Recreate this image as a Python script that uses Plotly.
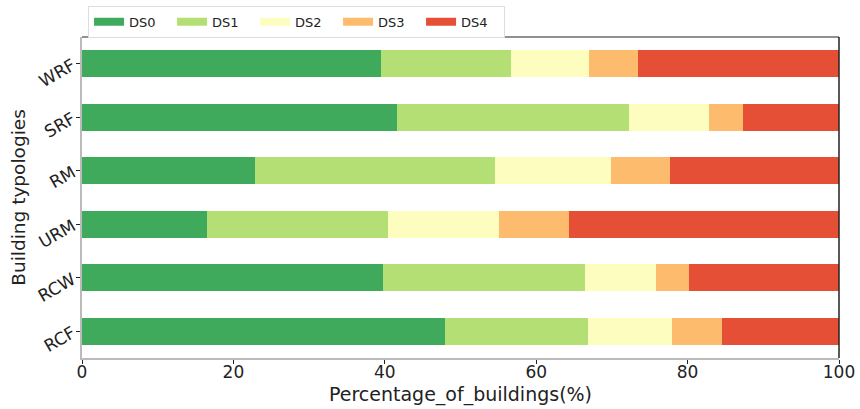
import plotly.graph_objects as go

categories = ["RCF", "RCW", "URM", "RM", "SRF", "WRF"]
series_names = ["DS0", "DS1", "DS2", "DS3", "DS4"]
ds0 = [48.0, 39.7, 16.5, 22.8, 41.6, 39.5]
ds1 = [18.8, 26.8, 23.9, 31.8, 30.7, 17.2]
ds2 = [11.2, 9.3, 14.7, 15.3, 10.5, 10.3]
ds3 = [6.5, 4.4, 9.2, 7.8, 4.5, 6.4]
ds4 = [15.5, 19.8, 35.7, 22.3, 12.7, 26.6]
colors = ["#40aa5c", "#b4df75", "#fefdc0", "#fdbb6d", "#e54f36"]
x_ticks = [0, 20, 40, 60, 80, 100]

fig = go.Figure()
for name, vals, col in zip(series_names, [ds0, ds1, ds2, ds3, ds4], colors):
    fig.add_trace(go.Bar(
        y=categories, x=vals, name=name, orientation="h",
        marker=dict(color=col, line=dict(width=0)),
        width=0.5, showlegend=False,
    ))
for name, col in zip(series_names, colors):
    fig.add_trace(go.Scatter(
        x=[None], y=[None], mode="lines", name=name,
        line=dict(color=col, width=8),
    ))

fig.update_layout(
    width=860, height=409,
    margin=dict(l=82, r=21, t=37, b=51, autoexpand=False),
    barmode="stack",
    plot_bgcolor="white", paper_bgcolor="white",
    font=dict(family="DejaVu Sans", color="#222222"),
    legend=dict(
        orientation="h", x=0.008, y=1.097, xanchor="left", yanchor="top",
        bordercolor="#dddddd", borderwidth=1, bgcolor="white",
        font=dict(size=13, family="DejaVu Sans", color="#222222"),
        itemwidth=30, entrywidth=38, tracegroupgap=0, traceorder="normal",
    ),
    xaxis=dict(
        range=[0, 100], tickvals=x_ticks, ticktext=[str(v) for v in x_ticks],
        showgrid=False, zeroline=False, automargin=False,
        showline=True, linecolor="#bbbbbb", linewidth=2,
        ticks="outside", ticklen=4, tickcolor="#222222",
        tickfont=dict(size=17), ticklabelstandoff=-6,
        title=dict(text="Percentage_of_buildings(%)", font=dict(size=19), standoff=6),
    ),
    yaxis=dict(
        range=[-0.5, 5.5], showgrid=False, zeroline=False, automargin=False,
        showline=True, linecolor="#bbbbbb", linewidth=2,
        ticks="outside", ticklen=4, tickcolor="#222222",
        tickfont=dict(size=17), tickangle=-30,
        title=dict(text="Building typologies", font=dict(size=18.5), standoff=4),
    ),
    shapes=[
        dict(type="line", xref="paper", yref="paper", x0=0, x1=1, y0=1, y1=1,
             line=dict(color="#222222", width=1)),
        dict(type="line", xref="paper", yref="paper", x0=1, x1=1, y0=0, y1=1,
             line=dict(color="#222222", width=1.5)),
    ],
)

fig.write_html("out.html")
